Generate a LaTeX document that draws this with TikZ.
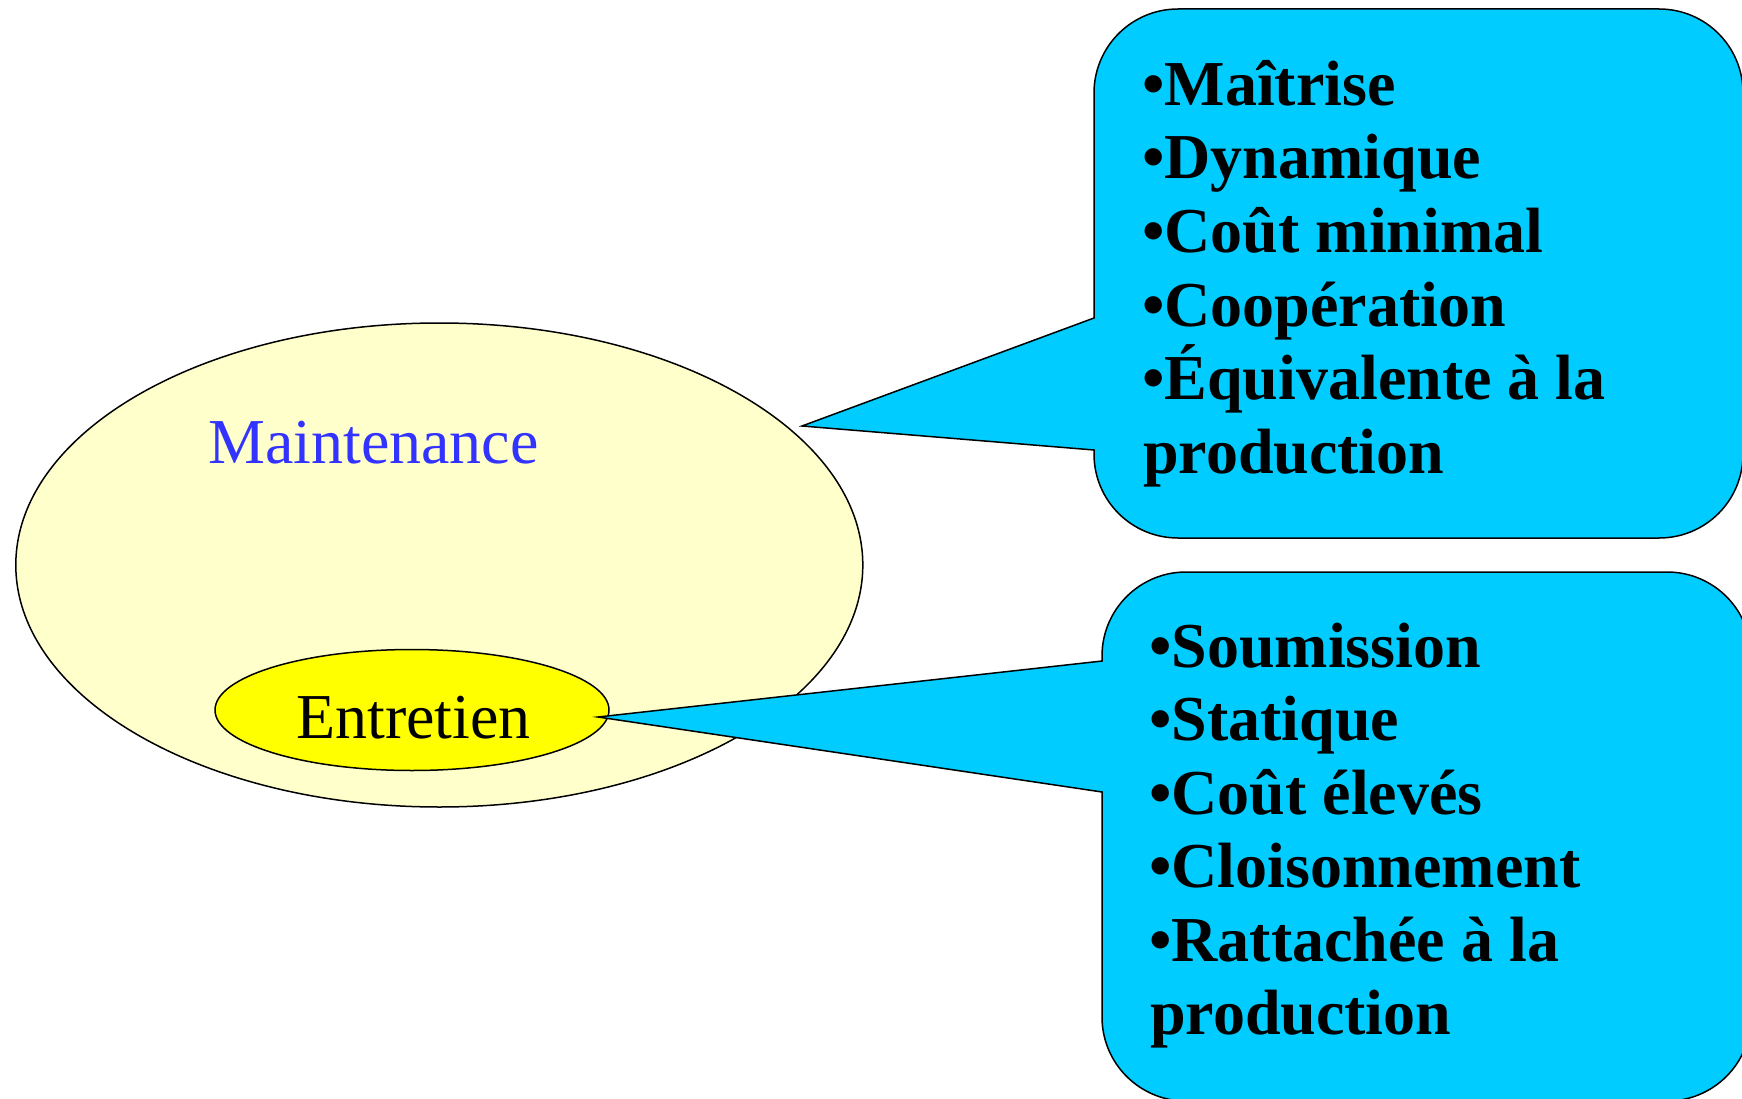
\documentclass[tikz,border=0pt]{standalone}
\usepackage{fontspec}
\setmainfont{Liberation Serif}
\usetikzlibrary{shapes.geometric}
\definecolor{callcyan}{HTML}{00CCFF}
\definecolor{paleyel}{HTML}{FFFFCC}
\definecolor{brightyel}{HTML}{FFFF00}
\definecolor{maintblue}{HTML}{3333FF}
\tikzset{
  outline/.style={draw=black, line width=1.5pt},
  bigtext/.style={font=\fontsize{64}{73.5}\selectfont, inner sep=0pt, anchor=base west},
  listtext/.style={font=\fontsize{64}{73.5}\selectfont\bfseries, inner sep=0pt, anchor=base west},
}
\begin{document}
\begin{tikzpicture}[x=1pt, y=-1pt]
\useasboundingbox (0,0) rectangle (1742,1099);
\clip (0,0) rectangle (1742,1099);
% ellipses
\node[ellipse, outline, fill=paleyel, inner sep=0pt, minimum width=847pt, minimum height=484pt] (maint) at (439.3,565) {};
\node[bigtext, text=maintblue] (mtext) at (208,463) {Maintenance};
\node[ellipse, outline, fill=brightyel, inner sep=0pt, minimum width=394pt, minimum height=121pt] (entr) at (412,710) {};
\node[bigtext] (etext) at (296,738) {Entretien};
% tips
\coordinate (utip) at (802,426);
\coordinate (ltip) at (598,717);
% upper callout
\draw[outline, fill=callcyan] (1094,318) -- (1094,93) .. controls (1094,46.6) and (1131.6,9) .. (1178,9) -- (1659,9) .. controls (1705.6,9) and (1743,46.6) .. (1743,93) -- (1743,454) .. controls (1743,500.6) and (1705.6,538) .. (1659,538) -- (1178,538) .. controls (1131.6,538) and (1094,500.6) .. (1094,454) -- (1094,450) -- (utip) -- cycle;
% lower callout
\draw[outline, fill=callcyan] (1102,661) -- (ltip) -- (1102,792) -- (1102,1017) .. controls (1102,1063.4) and (1139.6,1101) .. (1186,1101) -- (1667,1101) .. controls (1713.4,1101) and (1751,1063.4) .. (1751,1017) -- (1751,656) .. controls (1751,609.6) and (1713.4,572) .. (1667,572) -- (1186,572) .. controls (1139.6,572) and (1102,609.6) .. (1102,656) -- cycle;
% upper list
\node[listtext] (u1) at (1142,105.5) {•Maîtrise};
\node[listtext] (u2) at (1142,179) {•Dynamique};
\node[listtext] (u3) at (1142,252.5) {•Coût minimal};
\node[listtext] (u4) at (1142,326) {•Coopération};
\node[listtext] (u5) at (1142,399.5) {•Équivalente à la};
\node[listtext] (u6) at (1143,473) {production};
% lower list
\node[listtext] (l1) at (1149,667) {•Soumission};
\node[listtext] (l2) at (1149,740.5) {•Statique};
\node[listtext] (l3) at (1149,814) {•Coût élevés};
\node[listtext] (l4) at (1149,887.5) {•Cloisonnement};
\node[listtext] (l5) at (1149,961) {•Rattachée à la};
\node[listtext] (l6) at (1150,1034.5) {production};
\end{tikzpicture}
\end{document}
